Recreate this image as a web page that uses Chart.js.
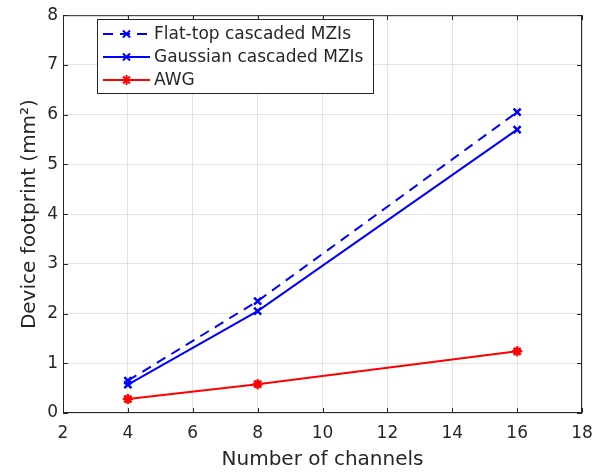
<!DOCTYPE html>
<html>
<head>
<meta charset="utf-8">
<script src="https://cdn.jsdelivr.net/npm/chart.js@4.4.0/dist/chart.umd.min.js"></script>
<style>
  html, body { margin: 0; padding: 0; background: #fff; }
  #wrap { width: 613px; height: 476px; }
</style>
</head>
<body>
<div id="wrap"><canvas id="c" width="613" height="476"></canvas></div>
<script>
// values
var channels = [4, 8, 16];
var flatTop = [0.65, 2.25, 6.05];
var gaussian = [0.57, 2.05, 5.70];
var awg = [0.28, 0.58, 1.24];
var seriesNames = ['Flat-top cascaded MZIs', 'Gaussian cascaded MZIs', 'AWG'];
var xTicks = [2, 4, 6, 8, 10, 12, 14, 16, 18];
var yTicks = [0, 1, 2, 3, 4, 5, 6, 7, 8];

var FONT = 'DejaVu Sans';
var TXT = '#262626';

function pts(ys) {
	return channels.map(function (x, i) { return { x: x, y: ys[i] }; });
}

// box, inward ticks and the legend, drawn like a matlab axes
var boxPlugin = {
	id: 'box',
	afterDraw: function (chart) {
		var ctx = chart.ctx;
		var a = chart.chartArea;
		var xs = chart.scales.x, ys = chart.scales.y;
		ctx.save();
		ctx.strokeStyle = '#262626';
		ctx.lineWidth = 1;
		ctx.beginPath();
		ctx.rect(a.left + 0.5, a.top + 0.5, a.right - a.left - 1, a.bottom - a.top - 1);
		xTicks.forEach(function (t) {
			var px = Math.round(xs.getPixelForValue(t)) + 0.5;
			ctx.moveTo(px, a.bottom); ctx.lineTo(px, a.bottom - 5);
			ctx.moveTo(px, a.top); ctx.lineTo(px, a.top + 5);
		});
		yTicks.forEach(function (t) {
			var py = Math.round(ys.getPixelForValue(t)) + 0.5;
			ctx.moveTo(a.left, py); ctx.lineTo(a.left + 5, py);
			ctx.moveTo(a.right, py); ctx.lineTo(a.right - 5, py);
		});
		ctx.stroke();

		// legend
		var lx = 97, ly = 19, lw = 276, lh = 74;
		ctx.fillStyle = '#fff';
		ctx.fillRect(lx, ly, lw, lh);
		ctx.strokeStyle = '#262626';
		ctx.strokeRect(lx + 0.5, ly + 0.5, lw, lh);
		chart.data.datasets.forEach(function (ds, i) {
			var cy = ly + 15 + i * 23;
			ctx.strokeStyle = ds.borderColor;
			ctx.lineWidth = 2;
			ctx.setLineDash(ds.borderDash || []);
			ctx.beginPath();
			ctx.moveTo(lx + 6, cy); ctx.lineTo(lx + 53, cy);
			ctx.stroke();
			ctx.setLineDash([]);
			Chart.helpers.drawPoint(ctx, {
				pointStyle: ds.pointStyle, radius: ds.pointRadius,
				borderWidth: ds.pointBorderWidth, rotation: 0
			}, lx + 29.5, cy);
			ctx.fillStyle = TXT;
			ctx.font = '17px "' + FONT + '"';
			ctx.textBaseline = 'middle';
			ctx.fillText(seriesNames[i], lx + 57, cy + 1);
		});
		ctx.restore();
	}
};

new Chart(document.getElementById('c'), {
	type: 'scatter',
	data: {
		datasets: [{
			label: seriesNames[0],
			data: pts(flatTop),
			showLine: true,
			borderColor: '#0000ff',
			backgroundColor: '#0000ff',
			borderWidth: 2,
			borderDash: [10, 7],
			pointStyle: 'crossRot',
			pointRadius: 5,
			pointBorderWidth: 2.5
		}, {
			label: seriesNames[1],
			data: pts(gaussian),
			showLine: true,
			borderColor: '#0000ff',
			backgroundColor: '#0000ff',
			borderWidth: 2,
			pointStyle: 'crossRot',
			pointRadius: 5,
			pointBorderWidth: 2.5
		}, {
			label: seriesNames[2],
			data: pts(awg),
			showLine: true,
			borderColor: '#ff0000',
			backgroundColor: '#ff0000',
			borderWidth: 2,
			pointStyle: 'star',
			pointRadius: 5,
			pointBorderWidth: 2.5
		}]
	},
	options: {
		responsive: false,
		animation: false,
		layout: { padding: { top: 8, right: 31, left: 0, bottom: 0 } },
		plugins: {
			legend: { display: false },
			tooltip: { enabled: false }
		},
		scales: {
			x: {
				type: 'linear',
				min: 2, max: 18,
				afterBuildTicks: function (s) { s.ticks = xTicks.map(function (v) { return { value: v }; }); },
				afterFit: function (s) { s.height = 63; },
				grid: { color: '#e3e3e3', drawTicks: false },
				border: { display: false },
				ticks: { color: TXT, font: { family: FONT, size: 17 }, padding: 10 },
				title: { display: true, text: 'Number of channels', color: TXT, font: { family: FONT, size: 20 }, padding: { top: 0, bottom: 4 } }
			},
			y: {
				type: 'linear',
				min: 0, max: 8,
				afterBuildTicks: function (s) { s.ticks = yTicks.map(function (v) { return { value: v }; }); },
				afterFit: function (s) { s.width = 63; },
				grid: { color: '#e3e3e3', drawTicks: false },
				border: { display: false },
				ticks: { color: TXT, font: { family: FONT, size: 17 }, padding: 5 },
				title: { display: true, text: 'Device footprint (mm\u00b2)', color: TXT, font: { family: FONT, size: 20 }, padding: { top: 18, bottom: 0 } }
			}
		}
	},
	plugins: [boxPlugin]
});
</script>
</body>
</html>
